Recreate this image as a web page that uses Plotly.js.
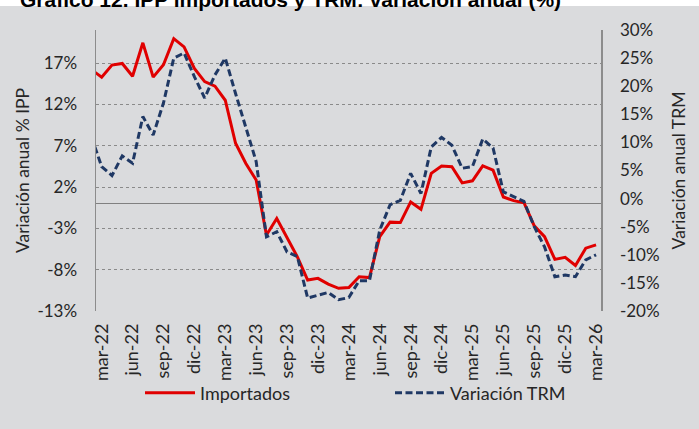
<!DOCTYPE html>
<html>
<head>
<meta charset="utf-8">
<script src="https://cdn.plot.ly/plotly-3.0.1.min.js"></script>
<style>
html,body{margin:0;padding:0;background:#dadbdd;}
#chart{width:699px;height:429px;}
</style>
</head>
<body>
<div id="chart"></div>
<script>
const months = ['feb-22','mar-22','abr-22','may-22','jun-22','jul-22','ago-22','sep-22','oct-22','nov-22','dic-22',
  'ene-23','feb-23','mar-23','abr-23','may-23','jun-23','jul-23','ago-23','sep-23','oct-23','nov-23','dic-23',
  'ene-24','feb-24','mar-24','abr-24','may-24','jun-24','jul-24','ago-24','sep-24','oct-24','nov-24','dic-24',
  'ene-25','feb-25','mar-25','abr-25','may-25','jun-25','jul-25','ago-25','sep-25','oct-25','nov-25','dic-25',
  'ene-26','feb-26','mar-26'];

const importados = [16.2,15.3,16.75,16.95,15.4,19.45,15.3,16.8,19.95,18.95,16.35,
  14.75,14.2,12.5,7.3,4.85,2.85,-3.8,-1.8,-4.2,-6.45,-9.25,-9.05,
  -9.75,-10.25,-10.15,-8.85,-8.95,-4.0,-2.25,-2.3,0.2,-0.7,3.65,4.55,
  4.45,2.5,2.75,4.55,4.05,0.8,0.35,0.1,-2.7,-4.0,-6.75,-6.5,
  -7.5,-5.4,-5.0];

const variacionTRM = [11.0,5.7,4.1,7.6,6.3,14.6,11.3,17.0,25.0,25.9,21.7,
  17.9,22.0,25.0,18.7,12.8,6.6,-6.8,-5.9,-9.5,-10.3,-17.7,-17.2,
  -16.7,-18.0,-17.6,-14.6,-14.6,-5.6,-1.1,-0.3,4.5,0.9,9.2,10.9,
  9.5,5.4,5.7,10.6,9.0,1.2,0.3,-0.5,-5.0,-8.6,-13.9,-13.6,
  -13.9,-10.9,-10.0];

const tickLabels = ['mar-22','jun-22','sep-22','dic-22','mar-23','jun-23','sep-23','dic-23',
  'mar-24','jun-24','sep-24','dic-24','mar-25','jun-25','sep-25','dic-25','mar-26'];

const leftTickVals = [-13,-8,-3,2,7,12,17];
const leftTickText = ['-13%','-8%','-3%','2%','7%','12%','17%'];
const rightTickVals = [-20,-15,-10,-5,0,5,10,15,20,25,30];
const rightTickText = ['-20%','-15%','-10%','-5%','0%','5%','10%','15%','20%','25%','30%'];

const txt = '#262626';
const fam = 'Lato, "Open Sans", sans-serif';
const font = {family:fam, size:17, color:txt};

const traces = [
  {x:months, y:importados, type:'scatter', mode:'lines', name:'Importados',
   line:{color:'#e00000', width:3}, yaxis:'y', legend:'legend'},
  {x:months, y:variacionTRM, type:'scatter', mode:'lines', name:'Variación TRM',
   line:{color:'#1f3864', width:3, dash:'7px,3.5px'}, yaxis:'y2', legend:'legend2'}
];

const legendBase = {orientation:'h', xanchor:'left', xref:'container', y:(429-393)/429, yanchor:'middle', yref:'container',
  bgcolor:'rgba(0,0,0,0)', font:{family:fam, size:18, color:txt}, itemwidth:50};

const layout = {
  width:699, height:429,
  paper_bgcolor:'#dadbdd', plot_bgcolor:'rgba(0,0,0,0)',
  font:font,
  margin:{l:96, r:98, t:30, b:118},
  title:{text:'Gráfico 12. IPP importados y TRM: variación anual (%)',
    font:{family:'"Liberation Sans", Arial, sans-serif', size:21, color:'#000', weight:'bold'},
    x:20/699, xanchor:'left', xref:'container', y:1, yanchor:'middle', yref:'container'},
  shapes:[{type:'rect', xref:'paper', yref:'paper', x0:-96/505, x1:603/505, y0:1 + 24/281, y1:1 + 31/281,
    fillcolor:'#ffffff', line:{width:0}, layer:'below'}],
  xaxis:{type:'category', range:[0.45,49.48], tickmode:'array', tickvals:tickLabels, ticktext:tickLabels,
    tickangle:-90, showgrid:false, zeroline:false, showline:false, ticks:'', ticklabelstandoff:8,
    tickfont:{family:fam, size:18, color:txt}},
  yaxis:{range:[-13,21], tickmode:'array', tickvals:leftTickVals, ticktext:leftTickText,
    showgrid:true, gridcolor:'#8a8a8a', griddash:'dot', gridwidth:1,
    zeroline:true, zerolinecolor:'#808080', zerolinewidth:1,
    showline:true, linecolor:'#8c8c8c', linewidth:1.5, ticks:'', ticklabelstandoff:14,
    tickfont:{family:fam, size:17, color:txt},
    title:{text:'Variación anual % IPP', font:{family:fam, size:17.5, color:txt}, standoff:3}},
  yaxis2:{overlaying:'y', side:'right', range:[-20,30], tickmode:'array', tickvals:rightTickVals, ticktext:rightTickText,
    showgrid:false, zeroline:false, showline:true, linecolor:'#8c8c8c', linewidth:1.5, ticks:'', ticklabelstandoff:14,
    tickfont:{family:fam, size:17, color:txt},
    title:{text:'Variación anual TRM', font:{family:fam, size:17.5, color:txt}, standoff:14}},
  showlegend:true,
  legend:Object.assign({}, legendBase, {x:140/699}),
  legend2:Object.assign({}, legendBase, {x:390/699})
};

Plotly.newPlot('chart', traces, layout, {displayModeBar:false, staticPlot:true});
</script>
</body>
</html>
